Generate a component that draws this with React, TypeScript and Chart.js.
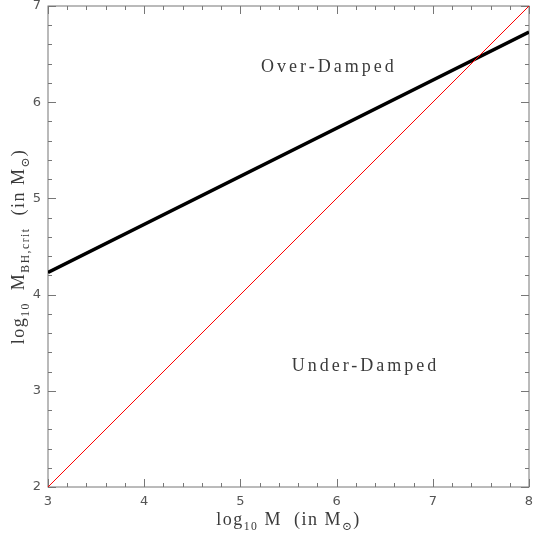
import { useEffect, useRef } from "react";
import { Chart, registerables, type Plugin } from "chart.js";

Chart.register(...registerables);

// data
const massRange = [3, 8];
const criticalMass = [4.23, 6.73];
const equalMass = [2, 7];

const xTicks = [3, 4, 5, 6, 7, 8];
const yTicks = [2, 3, 4, 5, 6, 7];
const minorStep = 0.2;

const regionLabels = ["Over-Damped", "Under-Damped"];
const regionX = [5.92, 6.3];
const regionY = [6.36, 3.25];

type Piece = { t: string; sub?: boolean };

const xTitle: Piece[] = [
  { t: "log" },
  { t: "10", sub: true },
  { t: " M  (in M" },
  { t: "\u2299", sub: true },
  { t: ")" },
];
const yTitle: Piece[] = [
  { t: "log" },
  { t: "10", sub: true },
  { t: "  M" },
  { t: "BH,crit", sub: true },
  { t: "  (in M" },
  { t: "\u2299", sub: true },
  { t: ")" },
];

const SERIF = '"Liberation Serif", "DejaVu Serif", serif';
const SANS = '"DejaVu Sans", sans-serif';

const pieceWidth = (ctx: CanvasRenderingContext2D, p: Piece[], size: number) => {
  let w = 0;
  p.forEach((s) => {
    ctx.font = `${s.sub ? size * 0.65 : size}px ${SERIF}`;
    w += ctx.measureText(s.t).width;
  });
  return w;
};

const drawPieces = (ctx: CanvasRenderingContext2D, p: Piece[], size: number, x: number, y: number) => {
  let cx = x;
  p.forEach((s) => {
    ctx.font = `${s.sub ? size * 0.65 : size}px ${SERIF}`;
    ctx.fillText(s.t, cx, s.sub ? y + size * 0.3 : y);
    cx += ctx.measureText(s.t).width;
  });
};

const framePlugin: Plugin = {
  id: "frame",
  beforeDatasetsDraw(chart) {
    const { ctx, chartArea: a, scales } = chart;
    const xs = scales.x;
    const ys = scales.y;
    ctx.save();
    ctx.strokeStyle = "#777";
    ctx.lineWidth = 1;
    ctx.strokeRect(a.left, a.top, a.right - a.left, a.bottom - a.top);
    ctx.beginPath();
    for (let v = xTicks[0]; v <= xTicks[xTicks.length - 1] + 1e-9; v += minorStep) {
      const major = Math.abs(v - Math.round(v)) < 1e-6;
      const len = major ? 8 : 4;
      const px = Math.round(xs.getPixelForValue(v)) + 0.5;
      ctx.moveTo(px, a.bottom);
      ctx.lineTo(px, a.bottom - len);
      ctx.moveTo(px, a.top);
      ctx.lineTo(px, a.top + len);
    }
    for (let v = yTicks[0]; v <= yTicks[yTicks.length - 1] + 1e-9; v += minorStep) {
      const major = Math.abs(v - Math.round(v)) < 1e-6;
      const len = major ? 8 : 4;
      const py = Math.round(ys.getPixelForValue(v)) + 0.5;
      ctx.moveTo(a.left, py);
      ctx.lineTo(a.left + len, py);
      ctx.moveTo(a.right, py);
      ctx.lineTo(a.right - len, py);
    }
    ctx.stroke();
    ctx.restore();
  },
  afterDraw(chart) {
    const { ctx, chartArea: a, scales } = chart;
    const xs = scales.x;
    const ys = scales.y;
    ctx.save();
    // tick labels
    ctx.fillStyle = "#555";
    ctx.font = `13px ${SANS}`;
    ctx.textAlign = "center";
    ctx.textBaseline = "top";
    xTicks.forEach((v) => ctx.fillText(String(v), xs.getPixelForValue(v), a.bottom + 8));
    ctx.textAlign = "right";
    ctx.textBaseline = "middle";
    yTicks.forEach((v) => ctx.fillText(String(v), a.left - 7, ys.getPixelForValue(v)));

    // axis titles
    ctx.fillStyle = "#3a3a3a";
    ctx.textAlign = "left";
    ctx.textBaseline = "alphabetic";
    (ctx as any).letterSpacing = "1.5px";
    const size = 18;
    const xw = pieceWidth(ctx, xTitle, size);
    drawPieces(ctx, xTitle, size, (a.left + a.right) / 2 - xw / 2, 525);
    const yw = pieceWidth(ctx, yTitle, size);
    ctx.translate(24, (a.top + a.bottom) / 2);
    ctx.rotate(-Math.PI / 2);
    drawPieces(ctx, yTitle, size, -yw / 2, 0);
    ctx.setTransform(1, 0, 0, 1, 0, 0);

    // region labels
    (ctx as any).letterSpacing = "3px";
    ctx.font = `18px ${SERIF}`;
    ctx.textAlign = "center";
    ctx.textBaseline = "middle";
    regionLabels.forEach((s, i) => {
      ctx.fillText(s, xs.getPixelForValue(regionX[i]), ys.getPixelForValue(regionY[i]));
    });
    ctx.restore();
  },
};

const App = () => {
  const canvasRef = useRef<HTMLCanvasElement>(null);
  const chartRef = useRef<Chart>();

  useEffect(() => {
    if (!canvasRef.current) return;
    const ctx = canvasRef.current.getContext("2d");
    if (!ctx) return;
    if (chartRef.current) chartRef.current.destroy();

    chartRef.current = new Chart(ctx, {
      type: "scatter",
      data: {
        datasets: [
          {
            label: "equal",
            data: massRange.map((x, i) => ({ x, y: equalMass[i] })),
            showLine: true,
            borderColor: "#ff0000",
            borderWidth: 1,
            pointRadius: 0,
            clip: 0,
          },
          {
            label: "critical",
            data: massRange.map((x, i) => ({ x, y: criticalMass[i] })),
            showLine: true,
            borderColor: "#000000",
            borderWidth: 3.5,
            pointRadius: 0,
            clip: 0,
          },
        ],
      },
      options: {
        responsive: false,
        animation: false,
        layout: { padding: { left: 48, right: 4, top: 6, bottom: 48 } },
        plugins: { legend: { display: false }, tooltip: { enabled: false } },
        scales: {
          x: { type: "linear", min: 3, max: 8, display: false },
          y: { type: "linear", min: 2, max: 7, display: false },
        },
      },
      plugins: [framePlugin],
    });

    return () => {
      if (chartRef.current) chartRef.current.destroy();
    };
  }, []);

  return (
    <div style={{ position: "absolute", left: 0, top: 0, width: 533, height: 535, background: "#fff" }}>
      <canvas ref={canvasRef} width={533} height={535}></canvas>
    </div>
  );
};

export default App;
